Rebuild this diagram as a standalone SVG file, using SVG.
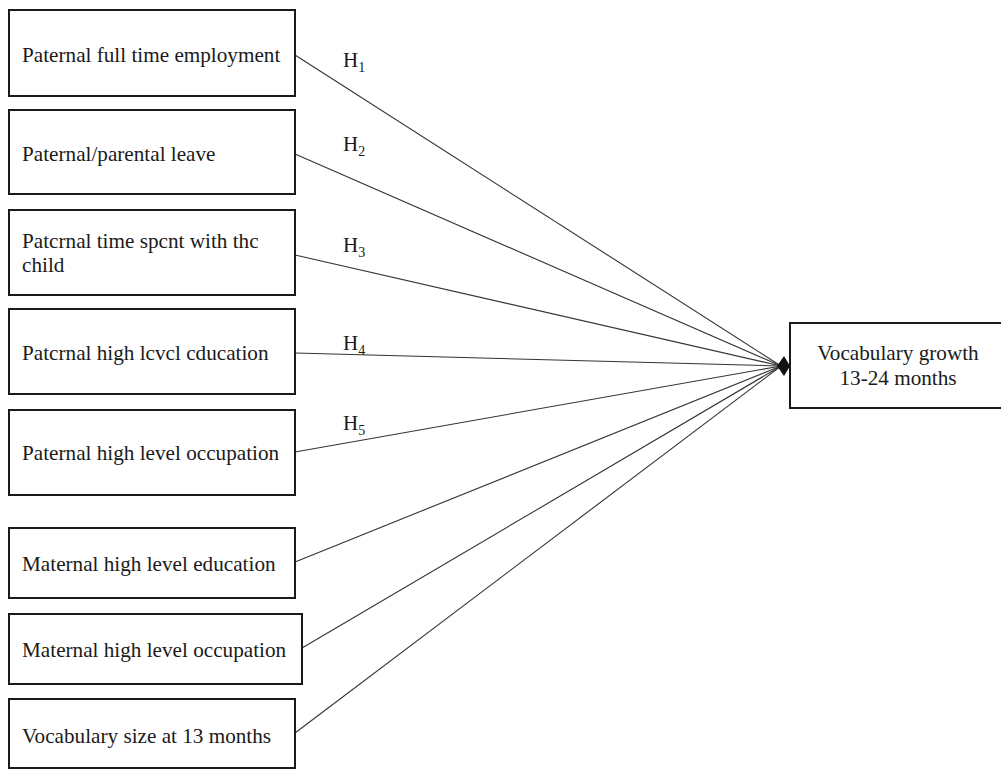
<svg xmlns="http://www.w3.org/2000/svg" width="1001" height="769" viewBox="0 0 1001 769">
<style>
.box{fill:#fff;stroke:#1a1a1a;stroke-width:2}
.t{font-family:"Liberation Serif","Times New Roman",serif;font-size:21.2px;fill:#1a1a1a}
.h{font-family:"Liberation Serif","Times New Roman",serif;font-size:21px;fill:#1a1a1a}
.sub{font-size:14px}
.c{stroke:#333;stroke-width:1.1;fill:none}
</style>
<rect width="1001" height="769" fill="#fff"/>
<g id="connectors">
<line class="c" x1="295" y1="55" x2="781" y2="366"/>
<line class="c" x1="295" y1="154" x2="781" y2="366"/>
<line class="c" x1="295" y1="255" x2="781" y2="366"/>
<line class="c" x1="295" y1="353" x2="781" y2="366"/>
<line class="c" x1="295" y1="452" x2="781" y2="366"/>
<line class="c" x1="295" y1="562" x2="781" y2="366"/>
<line class="c" x1="302" y1="648" x2="781" y2="366"/>
<line class="c" x1="295" y1="733" x2="781" y2="366"/>
<polygon points="777,366 784,356 790,366 784,376" fill="#111"/>
<text class="h" x="343" y="67">H<tspan class="sub" dy="5">1</tspan></text>
<text class="h" x="343" y="151">H<tspan class="sub" dy="5">2</tspan></text>
<text class="h" x="343" y="252">H<tspan class="sub" dy="5">3</tspan></text>
<text class="h" x="343" y="350">H<tspan class="sub" dy="5">4</tspan></text>
<text class="h" x="343" y="430">H<tspan class="sub" dy="5">5</tspan></text>
</g>
<g id="n1"><rect class="box" x="9" y="10" width="286" height="86"/><text class="t" x="22" y="62">Paternal full time employment</text></g>
<g id="n2"><rect class="box" x="9" y="110" width="286" height="84"/><text class="t" x="22" y="161">Paternal/parental leave</text></g>
<g id="n3"><rect class="box" x="9" y="210" width="286" height="85"/><text class="t" x="22" y="248">Patcrnal time spcnt with thc</text><text class="t" x="22" y="272">child</text></g>
<g id="n4"><rect class="box" x="9" y="309" width="286" height="85"/><text class="t" x="22" y="360">Patcrnal high lcvcl cducation</text></g>
<g id="n5"><rect class="box" x="9" y="410" width="286" height="85"/><text class="t" x="22" y="460">Paternal high level occupation</text></g>
<g id="n6"><rect class="box" x="9" y="528" width="286" height="70"/><text class="t" x="22" y="571">Maternal high level education</text></g>
<g id="n7"><rect class="box" x="9" y="614" width="293" height="70"/><text class="t" x="22" y="657">Maternal high level occupation</text></g>
<g id="n8"><rect class="box" x="9" y="699" width="286" height="69"/><text class="t" x="22" y="743">Vocabulary size at 13 months</text></g>
<g id="target"><rect class="box" x="790" y="323" width="220" height="85"/><text class="t" x="898" y="360" text-anchor="middle">Vocabulary growth</text><text class="t" x="898" y="385" text-anchor="middle">13-24 months</text></g>
</svg>
